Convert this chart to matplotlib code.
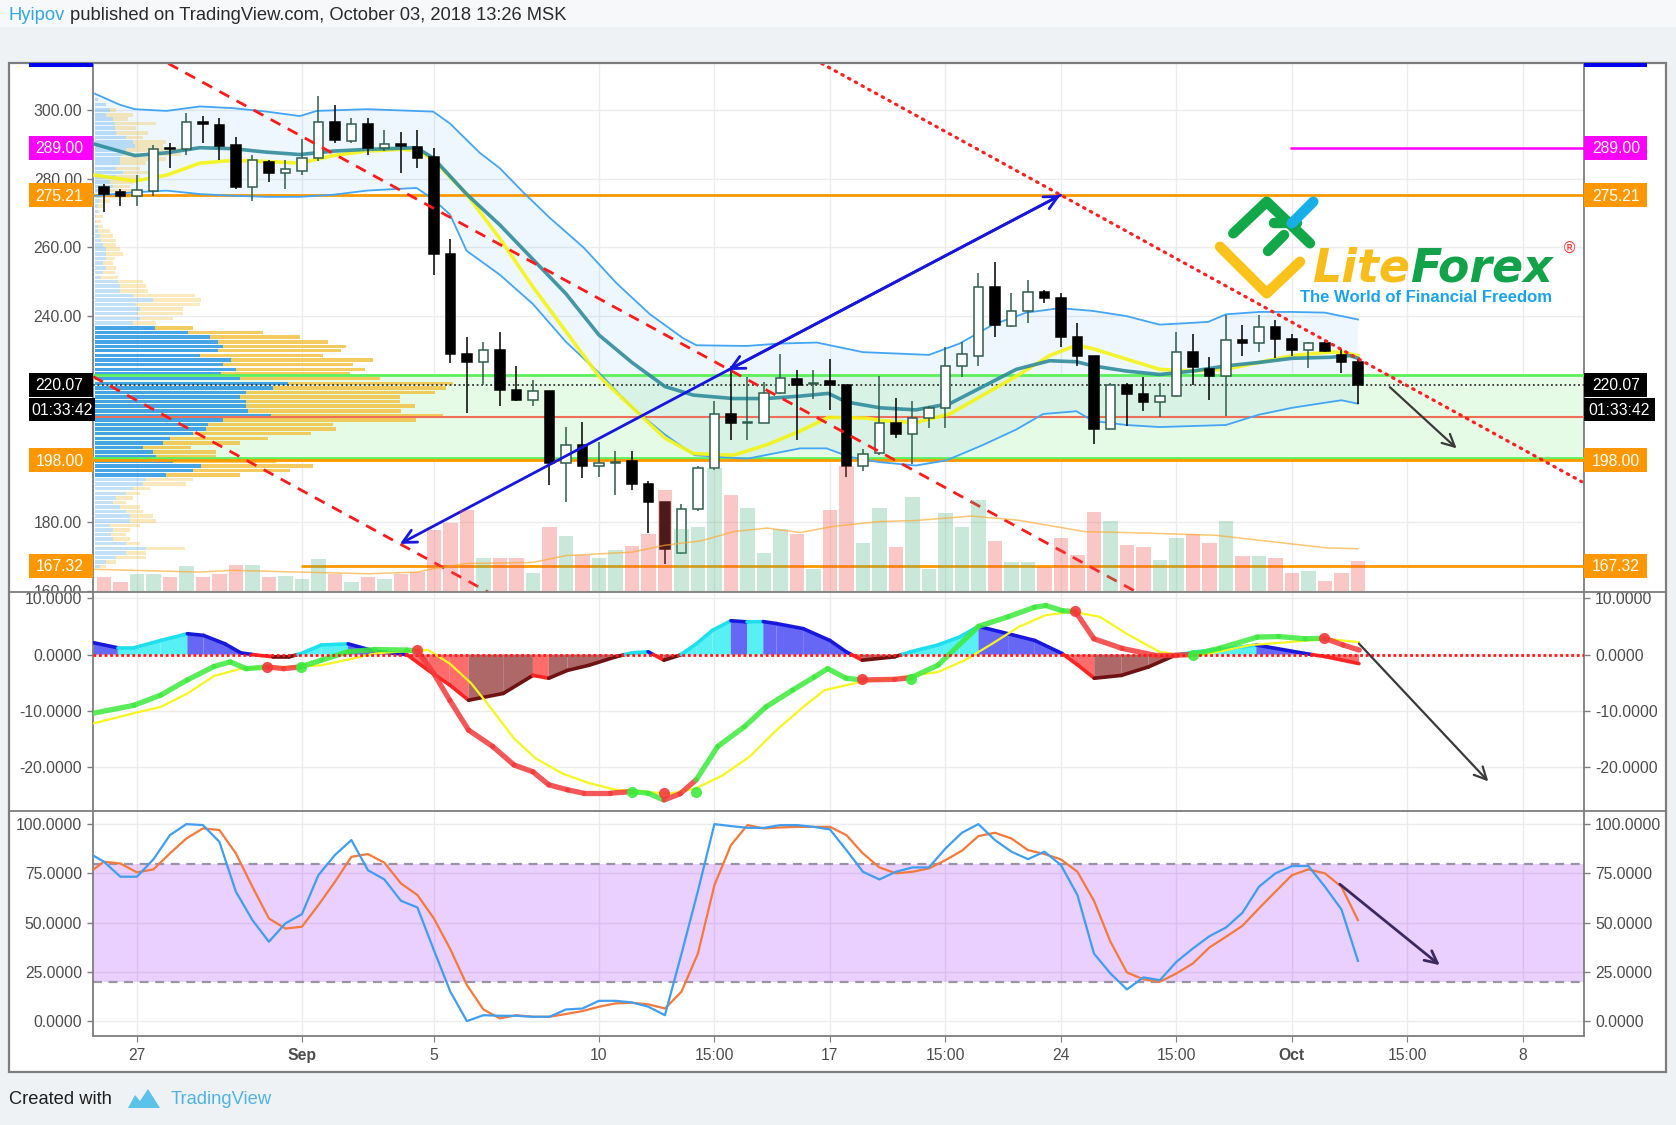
import numpy as np
import matplotlib
matplotlib.use("Agg")
import matplotlib.pyplot as plt
from matplotlib import font_manager as fm
from matplotlib.patches import Rectangle, Polygon
from matplotlib.collections import LineCollection
from matplotlib.transforms import blended_transform_factory, Bbox, TransformedBbox

# ------------------------------------------------------------------ fonts
try:
    fm.findfont(fm.FontProperties(family='Liberation Sans Narrow'), fallback_to_default=False)
    BASE_FONT, SZ = 'Liberation Sans Narrow', 1.0
except Exception:
    BASE_FONT, SZ = 'Liberation Sans', 0.84
plt.rcParams['font.family'] = [BASE_FONT, 'DejaVu Sans']

# ------------------------------------------------------------------ data
# 12h candles, x in days from Aug 27 (0 = Aug 27)
candle_day = np.arange(-1.0, 37.01, 0.5)
opens = [277.7, 276.0, 274.8, 276.5, 289.0, 288.7, 296.5, 295.7, 289.7, 277.5,
         284.8, 281.5, 282.3, 286.0, 296.5, 291.0, 296.0, 289.0, 290.2, 289.3,
         286.2, 258.2, 229.0, 226.6, 230.0, 218.6, 215.6, 218.3, 197.3, 202.5,
         196.3, 197.2, 197.9, 191.2, 185.8, 171.1, 183.8, 195.8, 211.5, 208.9,
         209.0, 217.5, 221.8, 220.3, 221.1, 219.9, 196.3, 200.1, 208.8, 205.8,
         210.2, 213.1, 225.5, 228.4, 248.4, 237.2, 241.4, 246.9, 245.4, 233.9,
         228.4, 207.1, 219.9, 217.4, 214.9, 216.6, 229.6, 224.7, 222.6, 232.9,
         232.2, 236.9, 233.4, 230.1, 232.2, 228.6, 226.6]
highs = [278.5, 277.0, 281.0, 289.7, 290.5, 299.0, 298.3, 297.5, 292.0, 287.0,
         285.5, 285.5, 291.5, 304.0, 301.5, 297.7, 297.5, 294.0, 293.5, 294.0,
         289.0, 262.4, 234.0, 232.5, 235.3, 225.4, 221.3, 218.3, 207.8, 209.3,
         203.3, 200.8, 200.8, 192.0, 185.8, 185.3, 196.3, 215.3, 225.4, 222.3,
         220.8, 228.9, 224.4, 224.4, 227.4, 219.9, 201.3, 222.5, 216.3, 215.2,
         213.8, 230.9, 232.4, 252.6, 255.6, 246.6, 250.6, 247.6, 246.6, 237.9,
         228.4, 220.4, 220.4, 222.4, 220.5, 235.4, 234.9, 228.2, 240.4, 237.4,
         240.4, 238.9, 234.9, 232.5, 232.9, 230.4, 227.4]
lows = [270.4, 272.0, 272.0, 275.0, 283.0, 287.0, 290.5, 285.5, 277.0, 273.5,
        279.0, 277.0, 281.0, 285.0, 290.5, 290.3, 287.0, 288.0, 281.7, 283.0,
        252.0, 226.4, 211.8, 220.0, 213.8, 215.3, 213.8, 190.8, 185.8, 193.0,
        193.3, 187.8, 189.4, 176.8, 167.8, 170.8, 183.3, 195.3, 203.8, 203.8,
        208.8, 217.4, 203.8, 215.8, 212.8, 193.3, 194.8, 199.7, 204.5, 196.9,
        207.5, 207.5, 222.4, 225.4, 233.9, 236.9, 237.9, 243.9, 230.9, 225.4,
        202.8, 207.1, 208.1, 212.4, 210.5, 216.4, 219.9, 215.5, 210.9, 228.4,
        229.4, 227.9, 228.4, 224.9, 229.4, 223.4, 214.4]
closes = [275.6, 274.8, 276.7, 288.7, 288.7, 296.5, 295.8, 289.5, 277.5, 285.5,
          281.5, 282.7, 286.0, 296.5, 291.3, 296.0, 289.0, 290.2, 289.5, 286.0,
          258.2, 229.0, 226.6, 230.0, 218.6, 215.6, 218.1, 197.3, 202.5, 196.3,
          197.3, 197.5, 191.2, 185.8, 172.3, 183.8, 195.8, 211.5, 208.8, 209.2,
          217.5, 222.1, 219.9, 220.6, 219.9, 196.3, 199.8, 209.0, 205.8, 210.2,
          213.1, 225.6, 228.9, 248.4, 237.4, 241.6, 246.9, 245.4, 233.9, 228.4,
          207.1, 219.9, 217.4, 214.9, 216.6, 229.6, 225.1, 222.6, 232.9, 232.2,
          236.9, 233.4, 230.1, 232.1, 229.9, 226.6, 220.07]
volumes = [42, 26, 50, 50, 42, 73, 42, 50, 75, 75,
           42, 45, 36, 92, 50, 26, 42, 34, 50, 56,
           177, 197, 235, 95, 95, 95, 53, 185, 160, 105,
           95, 120, 130, 167, 295, 180, 185, 358, 280, 240,
           110, 180, 167, 65, 235, 363, 140, 240, 127, 273,
           63, 227, 185, 265, 145, 83, 83, 70, 153, 105,
           230, 205, 135, 127, 90, 155, 167, 140, 203, 103,
           103, 97, 53, 57, 30, 53, 87]
vol_ma_day = [-1.27, 1.9, 2.9, 4.9, 7.0, 8.5, 9.0, 10.0, 12.0, 13.0, 15.0, 16.0, 17.1,
              18.1, 19.1, 20.1, 21.1, 22.5, 23.6, 25.3, 26.7, 28.7, 30.7, 32.7, 34.7, 36.1, 37.0]
vol_ma = [63, 55, 60, 55, 50, 55, 65, 80, 83, 103, 113, 133, 146,
          173, 183, 170, 188, 202, 205, 218, 206, 173, 168, 162, 140, 125, 123]

bb_up_day = [-1.27, -0.52, -0.06, 0.90, 1.91, 2.92, 3.93, 4.94, 5.45, 6.96, 8.98, 9.49, 10.39,
             11.0, 11.71, 12.52, 13.53, 14.54, 15.55, 16.56, 16.96, 18.47, 19.49, 20.6, 22.0,
             24.0, 24.93, 25.94, 26.95, 27.96, 28.97, 29.98, 30.99, 32.46, 33.0, 34.0, 35.0, 36.0, 37.0]
bb_up = [304.7, 301.5, 300.2, 299.7, 301.0, 300.5, 299.5, 298.2, 299.7, 300.2, 299.5, 296.0, 287.5,
         283.0, 276.0, 268.5, 260.0, 249.5, 240.5, 233.5, 231.5, 231.3, 232.0, 232.3, 229.5,
         228.7, 232.0, 237.5, 241.0, 242.3, 241.5, 240.0, 237.5, 238.3, 240.5, 241.2, 241.2, 241.0, 239.0]
bb_lo_day = [-1.27, -0.11, 0.90, 1.91, 2.92, 3.93, 4.94, 5.95, 6.96, 8.47, 8.98, 9.49, 9.99, 11.0,
             12.0, 13.0, 14.0, 15.0, 16.0, 16.9, 18.5, 20.1, 20.9, 21.6, 22.5, 23.6, 24.53, 25.64,
             26.65, 27.46, 28.47, 28.97, 29.98, 30.99, 33.0, 34.0, 35.0, 36.15, 36.5, 37.0]
bb_lo = [275.0, 276.0, 276.5, 275.5, 275.0, 274.7, 274.7, 275.3, 276.5, 277.3, 274.0, 269.5, 259.0, 252.0,
         243.5, 232.5, 223.5, 213.5, 205.5, 199.5, 198.5, 201.5, 201.5, 199.0, 197.5, 196.5, 198.0, 202.5,
         207.0, 211.5, 212.3, 209.5, 208.3, 207.7, 208.3, 211.3, 213.3, 215.0, 215.5, 214.5]
bb_mid_day = [-1.27, -0.06, 0.90, 1.91, 2.92, 3.93, 4.94, 5.95, 6.96, 8.47, 8.98, 9.99, 11.0, 12.0,
              13.0, 14.0, 15.0, 16.0, 16.86, 18.07, 19.08, 20.09, 20.95, 21.5, 22.52, 23.6, 24.63,
              25.64, 26.65, 27.66, 28.47, 28.97, 29.98, 30.99, 32.0, 33.0, 34.0, 35.0, 36.15, 36.75, 37.0]
bb_mid = [290.0, 286.7, 287.5, 289.0, 288.7, 287.7, 287.0, 288.0, 288.5, 289.0, 286.0, 275.5, 266.5, 256.5,
          246.5, 234.5, 226.5, 219.5, 217.0, 216.0, 216.0, 216.7, 217.5, 215.0, 213.3, 212.7, 214.5,
          219.5, 224.5, 227.0, 226.7, 225.5, 224.0, 223.0, 224.0, 225.5, 226.5, 227.7, 228.0, 228.5, 227.7]
ema_day = [-1.27, -0.06, 0.90, 1.91, 2.92, 3.93, 4.94, 5.95, 6.96, 7.97, 8.47, 8.98, 9.99, 11.0, 12.0,
           13.0, 14.0, 15.0, 16.0, 16.86, 18.07, 19.08, 20.09, 20.95, 22.1, 22.6, 23.6, 24.63, 25.64,
           26.65, 27.66, 28.47, 28.97, 29.98, 30.99, 32.0, 33.0, 34.0, 35.0, 36.15, 36.5, 37.0]
ema = [281.0, 279.3, 281.0, 284.5, 285.3, 285.0, 284.5, 286.7, 288.0, 288.5, 288.3, 285.5, 275.5, 262.5, 248.5,
       235.5, 222.5, 213.5, 204.5, 200.0, 199.5, 202.5, 206.5, 210.5, 210.3, 209.5, 209.0, 211.5, 217.0,
       222.5, 228.5, 231.5, 230.5, 227.5, 224.5, 224.0, 224.5, 226.5, 228.5, 229.5, 229.5, 228.5]

# visible-range volume profile (price row, up volume, down volume)
profile_price = [303.0, 301.5, 300.0, 298.5, 297.3, 296.0, 294.7, 293.3, 292.0, 290.7, 289.5, 288.3, 287.0,
                 285.7, 284.5, 283.0, 281.7, 280.5, 279.0, 277.7, 276.5, 275.0, 273.5, 272.0, 270.5, 269.0,
                 267.5, 266.0, 264.7, 263.3, 262.0, 260.7, 259.5, 258.0, 256.7, 255.5, 254.0, 252.7, 251.3,
                 250.0, 248.7, 247.3, 246.0, 244.7, 243.3, 242.0, 240.7, 239.3, 238.0, 236.5, 235.2, 233.9,
                 232.5, 231.2, 229.9, 228.5, 227.2, 225.9, 224.5, 223.2, 221.8, 220.4, 219.1, 217.8, 216.4,
                 215.1, 213.8, 212.4, 211.1, 209.8, 208.4, 207.1, 205.8, 204.4, 203.1, 201.8, 200.4, 199.1,
                 197.8, 196.4, 195.1, 193.8, 192.4, 191.1, 189.8, 188.4, 187.1, 185.8, 184.4, 183.1, 181.8,
                 180.4, 179.1, 177.8, 176.4, 175.1, 173.8, 172.4, 171.1, 169.8, 168.4, 167.1]
profile_up = [10, 35, 45, 35, 55, 60, 60, 65, 95, 115, 120, 95, 85,
              75, 75, 65, 85, 65, 45, 55, 45, 35, 15, 10, 10, 5,
              5, 10, 10, 15, 20, 25, 35, 35, 35, 25, 35, 25, 20,
              70, 75, 75, 115, 175, 125, 135, 130, 135, 115, 180, 280, 345,
              370, 385, 370, 315, 410, 385, 425, 380, 435, 580, 535, 455, 435,
              455, 455, 460, 530, 385, 340, 335, 295, 225, 205, 145, 175, 185,
              235, 320, 295, 215, 155, 145, 115, 95, 65, 55, 75, 95, 105,
              105, 45, 55, 50, 55, 95, 155, 95, 65, 35, 15]
profile_down = [0, 0, 20, 80, 45, 125, 65, 95, 50, 100, 85, 180, 175,
                140, 80, 70, 80, 70, 70, 50, 65, 70, 30, 15, 5, 20,
                15, 15, 35, 40, 45, 40, 40, 50, 25, 30, 30, 35, 50,
                75, 80, 85, 185, 145, 190, 130, 135, 100, 70, 115, 225, 270,
                330, 370, 370, 370, 425, 390, 385, 385, 420, 495, 520, 565, 480,
                460, 505, 460, 515, 580, 375, 390, 355, 295, 230, 145, 190, 180,
                310, 335, 290, 220, 140, 130, 50, 40, 50, 40, 60, 50, 70,
                80, 90, 50, 45, 50, 40, 115, 60, 90, 30, 20]
value_area = (193.8, 236.5)

# horizontal levels and their axis labels
level_price = [289.00, 275.21, 220.07, 198.00, 167.32]
level_color = ['#ff00ff', '#ff9800', '#000000', '#ff9800', '#ff9800']
timer_text = '01:33:42'
zone_low, zone_high, zone_mid = 198.8, 222.8, 210.7
magenta_start, orange_low_start = 34.95, 4.98

# drawings (day, price)
trend_dash_a = ([0.95, 30.29], [313.5, 159.7])
trend_dash_b = ([-1.33, 10.64], [222.4, 159.7])
trend_dot = ([20.75, 43.78], [313.5, 191.8])
blue_arrow_pts = ([7.97, 17.92, 27.99], [173.7, 224.3, 275.2])
main_arrow = ([37.97, 39.99], [219.3, 201.5])
macd_arrow = ([37.03, 40.95], [1.95, -22.5])
stoch_arrow = ([36.45, 39.48], [69.5, 28.4])

# MACD pane
macd_day = [-1.31, -0.09, 0.72, 1.53, 2.34, 2.83, 3.31, 3.96, 4.45, 4.94, 5.59, 6.40, 7.21, 8.18, 8.51, 9.0,
            9.48, 10.05, 10.78, 11.43, 12.0, 12.48, 13.05, 13.54, 14.35, 15.0, 15.49, 15.97, 16.46, 16.95,
            17.60, 18.41, 19.06, 19.87, 20.52, 20.93, 21.49, 21.98, 22.96, 23.45, 24.27, 25.5, 26.4, 27.2,
            27.54, 28.03, 28.44, 29.0, 29.85, 30.83, 31.48, 31.98, 32.8, 33.95, 34.6, 35.4, 35.98, 36.55, 37.04]
macd_val = [-10.4, -9.0, -7.2, -4.5, -2.1, -1.3, -2.5, -2.2, -2.5, -2.2, -1.0, 0.5, 0.9, 0.8, 0.6, -3.4,
            -8.1, -13.4, -16.3, -19.6, -20.8, -23.1, -24.0, -24.6, -24.6, -24.3, -24.6, -25.8, -24.7, -22.2,
            -16.3, -12.8, -9.3, -6.3, -4.0, -2.5, -4.2, -4.5, -4.4, -4.1, -1.9, 5.0, 6.7, 8.4,
            8.7, 7.8, 7.6, 2.8, 1.1, -0.1, -0.1, 0.0, 1.1, 3.1, 3.2, 2.8, 2.9, 1.7, 0.8]
sig_day = [-1.31, -0.09, 0.72, 1.53, 2.34, 3.15, 3.96, 4.94, 5.59, 6.40, 7.21, 8.18, 8.83, 9.48, 10.13,
           10.78, 11.43, 12.08, 12.89, 13.70, 14.51, 15.33, 16.14, 16.95, 17.76, 18.57, 19.38, 20.19, 20.84,
           21.98, 22.96, 24.27, 25.09, 25.91, 26.72, 27.54, 28.36, 29.18, 29.99, 30.98, 31.96, 32.77, 33.76,
           34.9, 36.04, 37.03]
sig_val = [-12.2, -10.4, -9.3, -6.9, -3.8, -2.5, -2.3, -2.1, -1.9, -0.9, 0.2, 0.6, 0.8, -1.6, -5.1,
           -9.9, -14.9, -18.4, -21.1, -22.8, -24.0, -24.3, -24.7, -23.7, -21.4, -18.1, -13.4, -9.3, -6.3,
           -4.8, -4.2, -3.1, -1.0, 1.9, 4.9, 7.0, 7.6, 6.7, 3.7, 0.5, -0.4, 0.5, 1.7,
           2.2, 2.8, 2.2]
hist_day = [-1.31, -0.58, -0.09, 0.72, 1.53, 2.02, 2.67, 3.15, 3.64, 4.13, 4.61, 4.94, 5.59, 6.40, 7.21,
            8.18, 8.83, 9.48, 10.05, 11.10, 12.0, 12.48, 13.05, 13.70, 14.51, 15.0, 15.49, 15.97, 16.46,
            16.95, 17.44, 18.0, 18.49, 18.98, 19.38, 20.19, 21.0, 21.49, 21.98, 22.96, 23.45, 24.27, 24.92,
            25.5, 26.4, 27.21, 28.03, 28.52, 29.01, 29.83, 30.65, 31.47, 32.12, 33.1, 33.92, 35.39, 36.04, 37.03]
hist_val = [2.1, 1.2, 1.2, 2.5, 3.7, 3.4, 1.9, 0.3, -0.1, -0.4, -0.4, 0.1, 1.7, 1.9, 0.6,
            0.0, -2.8, -5.4, -8.1, -6.9, -3.7, -4.2, -2.8, -1.9, -0.4, 0.3, 0.5, -1.0, -0.1,
            1.9, 4.3, 6.0, 5.8, 5.85, 5.5, 4.6, 2.5, 0.5, -1.0, -0.4, 0.5, 1.7, 3.1,
            5.0, 3.7, 2.5, 0.2, -1.9, -4.2, -3.7, -2.2, -0.1, 0.5, 1.1, 1.7, 0.2, -0.4, -1.6]
cross_day = [3.93, 4.97, 8.48, 15.0, 15.98, 16.95, 21.98, 23.45, 28.44, 31.99, 35.96]
cross_val = [-2.2, -2.2, 0.8, -24.4, -24.6, -24.3, -4.4, -4.4, 7.7, 0.0, 2.9]
cross_dir = ['r', 'g', 'r', 'g', 'r', 'g', 'r', 'g', 'r', 'g', 'r']

# Stochastic pane
stoch_day = [-1.31] + list(candle_day)
stoch_k = [83.9, 80.9, 73.3, 73.3, 82.1, 94.4, 100, 99.5, 91.0, 65.7, 51.3,
           40.3, 49.6, 54.3, 74.1, 84.3, 91.9, 76.6, 71.9, 61.1, 57.7,
           36.0, 14.9, 0.0, 3.0, 2.7, 2.7, 2.2, 2.2, 5.9, 6.4,
           10.3, 10.3, 9.5, 7.3, 3.0, 34, 66, 100, 99.0, 98.1,
           98.1, 99.5, 99.5, 98.6, 97.3, 86.8, 75.8, 71.9, 75.8, 78.0,
           78.0, 87.6, 95.6, 100, 91.9, 86.0, 82.2, 86.0, 79.2, 64.0,
           34.3, 24.2, 16.1, 22.2, 20.8, 30.1, 36.9, 43.1, 47.5, 55.0,
           68.2, 75.0, 78.7, 78.7, 68.2, 56.7, 30.6]
stoch_d = [77.0, 80.9, 80.0, 75.5, 77.0, 85.1, 92.7, 97.8, 97.0, 85.1, 68.2,
           52.1, 47.0, 47.9, 58.9, 70.7, 83.4, 84.8, 80.4, 69.9, 64.0,
           52.1, 36.4, 18.3, 5.9, 1.4, 3.0, 2.2, 2.2, 3.6, 5.1,
           7.3, 9.0, 9.3, 8.5, 6.4, 14.9, 34.3, 69.0, 89.3, 99.5,
           97.8, 98.3, 98.6, 98.6, 98.6, 94.4, 85.1, 78.0, 75.0, 75.8,
           77.5, 81.7, 86.5, 93.9, 95.6, 92.7, 86.8, 84.8, 82.1, 75.8,
           61.1, 40.3, 24.7, 21.2, 20.0, 24.2, 29.3, 37.4, 42.8, 48.4,
           57.2, 65.7, 74.1, 77.0, 75.0, 68.2, 51.3]
stoch_band = (20, 80)

# axes
xtick_day = [0, 5, 9, 14, 17.5, 21, 24.5, 28, 31.5, 35, 38.5, 42]
xtick_lab = ['27', 'Sep', '5', '10', '15:00', '17', '15:00', '24', '15:00', 'Oct', '15:00', '8']
main_ticks = [160, 180, 200, 220, 240, 260, 280, 300]
main_hidden_ticks = [200, 220]          # covered by the 198.00 / 220.07 labels in the original
macd_ticks = [10, 0, -10, -20]
stoch_ticks = [100, 75, 50, 25, 0]

# ------------------------------------------------------------------ layout
W, H = 1676, 1125
XMIN, XMAX = -1.33, 43.85
MAIN_LIM, MACD_LIM, STOCH_LIM = (159.7, 313.7), (-27.7, 11.1), (-7.4, 106.8)
L, R = 93, 1584
T_MAIN, B_MAIN, B_MACD, B_STOCH = 62.8, 592.0, 810.7, 1035.7
FRAME = (9, 62.8, 1665.5, 1071.7)
FS = 13.5 * SZ
GRID = '#ececec'
AXC = '#7d7d7d'
LABC = '#4d4d4d'

fig = plt.figure(figsize=(W / 100, H / 100), dpi=100)
fig.patch.set_facecolor('#eff2f5')

bg = fig.add_axes([0, 0, 1, 1], zorder=-1)
bg.set_xlim(0, W); bg.set_ylim(H, 0); bg.axis('off')
bg.add_patch(Rectangle((0, 0), W, 27, facecolor='#f7f8fa', lw=0))
bg.add_patch(Rectangle((FRAME[0], FRAME[1]), FRAME[2] - FRAME[0], FRAME[3] - FRAME[1],
                       facecolor='white', lw=0))


def pane(top, bot):
    return fig.add_axes([L / W, 1 - bot / H, (R - L) / W, (bot - top) / H], zorder=1)


ax_m = pane(T_MAIN, B_MAIN)
ax_c = pane(B_MAIN, B_MACD)
ax_s = pane(B_MACD, B_STOCH)

for a, lim in ((ax_m, MAIN_LIM), (ax_c, MACD_LIM), (ax_s, STOCH_LIM)):
    a.set_xlim(XMIN, XMAX)
    a.set_ylim(*lim)
    a.set_facecolor('white')
    a.spines['top'].set_visible(False)
    a.spines['bottom'].set_visible(False)
    for s in ('left', 'right'):
        a.spines[s].set_color(AXC)
        a.spines[s].set_linewidth(1.3)
    a.set_xticks(xtick_day)
    a.tick_params(axis='x', bottom=False, labelbottom=False)
    a.tick_params(axis='y', left=True, right=True, labelleft=True, labelright=True, length=4,
                  width=1, color=AXC, labelsize=FS, labelcolor=LABC, pad=4)
    a.grid(True, color=GRID, lw=1)
    a.set_axisbelow(True)

ax_m.set_yticks(main_ticks, ['' if v in main_hidden_ticks else f'{v:.2f}' for v in main_ticks])
ax_c.set_yticks(macd_ticks, [f'{v:.4f}' for v in macd_ticks])
ax_s.set_yticks(stoch_ticks, [f'{v:.4f}' for v in stoch_ticks])
ax_s.spines['bottom'].set_visible(True)
ax_s.spines['bottom'].set_color(AXC)
ax_s.spines['bottom'].set_linewidth(1.3)
ax_s.tick_params(axis='x', bottom=True, labelbottom=True, length=4, color=AXC, labelsize=FS,
                 labelcolor=LABC, pad=5)
ax_s.set_xticklabels(xtick_lab)
for lab in ax_s.get_xticklabels():
    if lab.get_text() in ('Sep', 'Oct'):
        lab.set_fontweight('bold')


def clip_ylabels(ax, top, bot):
    box = TransformedBbox(Bbox([[0, 1 - bot / H], [1, 1 - top / H]]), fig.transFigure)
    for t in ax.yaxis.get_major_ticks():
        for lab in (t.label1, t.label2):
            lab.set_clip_box(box)
            lab.set_clip_on(True)


clip_ylabels(ax_m, T_MAIN, B_MAIN)
clip_ylabels(ax_c, B_MAIN, B_MACD)
clip_ylabels(ax_s, B_MACD, B_STOCH)

# ------------------------------------------------------------------ main pane
ax_m.axhspan(zone_low, zone_high, color='#e6fbe6', lw=0, zorder=1)
bb_poly = list(zip(bb_up_day, bb_up)) + list(zip(bb_lo_day[::-1], bb_lo[::-1]))
ax_m.add_patch(Polygon(bb_poly, closed=True, facecolor=(0.13, 0.59, 0.95, 0.07), lw=0, zorder=1.5))

# volume profile, widths in axes fraction
ptrans = blended_transform_factory(ax_m.transAxes, ax_m.transData)
PROF_SCALE = 1.0 / (3 * (R - L))
x_start = 1.7 / (R - L)
for p, up_v, dn_v in zip(profile_price, profile_up, profile_down):
    in_va = value_area[0] <= p <= value_area[1]
    a_b, a_y = (0.85, 0.8) if in_va else (0.28, 0.33)
    wb, wy = up_v * PROF_SCALE, dn_v * PROF_SCALE
    ax_m.add_patch(Rectangle((x_start, p - 0.5), wb, 1.0, transform=ptrans,
                             facecolor=(0.15, 0.58, 0.89, a_b), lw=0, zorder=2))
    ax_m.add_patch(Rectangle((x_start + wb, p - 0.5), wy, 1.0, transform=ptrans,
                             facecolor=(0.95, 0.75, 0.22, a_y), lw=0, zorder=2))

# levels
ax_m.axhline(zone_high, color='#5cf05c', lw=2, zorder=3)
ax_m.axhline(zone_low, color='#5cf05c', lw=2, zorder=3)
ax_m.axhline(zone_mid, color='#ee6e58', lw=1.5, zorder=3)
ax_m.axhline(level_price[1], color='#ff9800', lw=2, zorder=3)
ax_m.axhline(level_price[3], color='#ff9800', lw=2, zorder=3)
ax_m.hlines(level_price[4], orange_low_start, XMAX, color='#ff9800', lw=2, zorder=3)
ax_m.hlines(level_price[0], magenta_start, XMAX, color='#ff00ff', lw=1.8, zorder=3)
ax_m.axhline(level_price[2], color='#333333', lw=1.3, ls=(0, (1, 1.5)), zorder=3)

# Bollinger + EMA
ax_m.plot(bb_up_day, bb_up, color='#42a5f5', lw=1.3, zorder=4)
ax_m.plot(bb_lo_day, bb_lo, color='#42a5f5', lw=1.3, zorder=4)
ax_m.plot(bb_mid_day, bb_mid, color='#2f8c9c', lw=2.6, alpha=0.9, zorder=4.2)
ax_m.plot(ema_day, ema, color='#f4f414', lw=2.6, alpha=0.9, zorder=4.1)

# candles
BW = 0.28
for d, o, h, l, c in zip(candle_day, opens, highs, lows, closes):
    up = c >= o
    ec = '#2f5d4c' if up else '#000000'
    ax_m.plot([d, d], [l, h], color=ec, lw=1.1, zorder=5, solid_capstyle='butt')
    ax_m.add_patch(Rectangle((d - BW / 2, min(o, c)), BW, max(abs(c - o), 0.35),
                             facecolor='white' if up else '#000000', edgecolor=ec, lw=1.1, zorder=6))

# trend lines
ax_m.plot(*trend_dash_a, color='#ff1a1a', lw=2, ls=(0, (4, 3)), zorder=7)
ax_m.plot(*trend_dash_b, color='#ff1a1a', lw=2, ls=(0, (4, 3)), zorder=7)
ax_m.plot(*trend_dot, color='#ff2020', lw=2.3, ls=(0, (0.5, 1.9)), dash_capstyle='round', zorder=7)

bx, by = blue_arrow_pts
aprops = dict(arrowstyle='->', color='#1616e0', lw=2, mutation_scale=24, shrinkA=0, shrinkB=0)
ax_m.annotate('', xy=(bx[0], by[0]), xytext=(bx[1], by[1]), arrowprops=aprops, zorder=8)
ax_m.annotate('', xy=(bx[2], by[2]), xytext=(bx[1], by[1]), arrowprops=aprops, zorder=8)
ax_m.annotate('', xy=(bx[1], by[1]), xytext=(bx[2], by[2]), arrowprops=aprops, zorder=8)
ax_m.annotate('', xy=(main_arrow[0][1], main_arrow[1][1]), xytext=(main_arrow[0][0], main_arrow[1][0]),
              arrowprops=dict(arrowstyle='->', color='#3a3a3a', lw=1.6, mutation_scale=22,
                              shrinkA=0, shrinkB=0), zorder=8)

# volume bars on their own scale
ax_v = ax_m.twinx()
ax_v.set_zorder(1)
ax_v.set_ylim((MAIN_LIM[0] - 160) * 10, (MAIN_LIM[1] - 160) * 10)
ax_v.axis('off')
vcols = [(0.30, 0.70, 0.52, 0.30) if c >= o else (0.937, 0.325, 0.314, 0.32)
         for o, c in zip(opens, closes)]
ax_v.bar(candle_day, volumes, width=0.44, color=vcols, lw=0)
ax_v.plot(vol_ma_day, vol_ma, color='#ffa726', lw=1.1, alpha=0.65)
ax_v.set_xlim(XMIN, XMAX)

# ------------------------------------------------------------------ MACD pane
HCOL = {('pos', True): ('#45f0f4', '#1fdfee'), ('pos', False): ('#5656f6', '#1818dd'),
        ('neg', False): ('#ff5c5c', '#ff2424'), ('neg', True): ('#a65858', '#6e1212')}
for i in range(len(hist_day) - 1):
    x0, x1, v0, v1 = hist_day[i], hist_day[i + 1], hist_val[i], hist_val[i + 1]
    rising = v1 >= v0
    if v0 * v1 < 0:
        xz = x0 + (x1 - x0) * v0 / (v0 - v1)
        parts = [(x0, v0, xz, 0.0), (xz, 0.0, x1, v1)]
    else:
        parts = [(x0, v0, x1, v1)]
    for a0, b0, a1, b1 in parts:
        sign = 'pos' if (b0 + b1) > 0 else 'neg'
        fc, ec = HCOL[(sign, rising)]
        ax_c.add_patch(Polygon([(a0, 0), (a0, b0), (a1, b1), (a1, 0)], closed=True,
                               facecolor=fc, edgecolor='none', alpha=0.9, zorder=2))
        ax_c.plot([a0, a1], [b0, b1], color=ec, lw=2.6, solid_capstyle='round', zorder=3)

ax_c.plot(sig_day, sig_val, color='#f6f61e', lw=1.6, zorder=4)


def macd_state(x):
    st = 'g'
    for d, c in zip(cross_day, cross_dir):
        if d <= x:
            st = c
    return st


SCOL = {'r': '#f23a3a', 'g': '#3dea3d'}
segs = [[(macd_day[i], macd_val[i]), (macd_day[i + 1], macd_val[i + 1])] for i in range(len(macd_day) - 1)]
scols = [SCOL[macd_state(0.5 * (macd_day[i] + macd_day[i + 1]))] for i in range(len(macd_day) - 1)]
ax_c.add_collection(LineCollection(segs, colors=scols, linewidths=3.8, alpha=0.85,
                                   capstyle='round', joinstyle='round', zorder=5))
ax_c.axhline(0, color='#ff1a1a', lw=2, ls=(0, (1, 1)), zorder=6)
for d, v, c in zip(cross_day, cross_val, cross_dir):
    ax_c.plot(d, v, 'o', ms=8, color=SCOL[c], alpha=0.9, mec='none', zorder=7)
ax_c.annotate('', xy=(macd_arrow[0][1], macd_arrow[1][1]), xytext=(macd_arrow[0][0], macd_arrow[1][0]),
              arrowprops=dict(arrowstyle='->', color='#3a3a3a', lw=1.6, mutation_scale=22,
                              shrinkA=0, shrinkB=0), zorder=8)

# ------------------------------------------------------------------ Stochastic pane
ax_s.axhspan(*stoch_band, color=(0.6, 0.08, 1.0, 0.2), lw=0, zorder=1)
for lv in stoch_band:
    ax_s.axhline(lv, color='#9a92a6', lw=1.6, ls=(0, (4, 3)), zorder=2)
ax_s.plot(stoch_day, stoch_d, color='#f5793a', lw=1.6, zorder=3)
ax_s.plot(stoch_day, stoch_k, color='#3f9ef0', lw=1.6, zorder=4)
ax_s.annotate('', xy=(stoch_arrow[0][1], stoch_arrow[1][1]), xytext=(stoch_arrow[0][0], stoch_arrow[1][0]),
              arrowprops=dict(arrowstyle='->', color='#3b2960', lw=2, mutation_scale=22,
                              shrinkA=0, shrinkB=0), zorder=8)

# ------------------------------------------------------------------ overlay (labels, frame, logo)
ov = fig.add_axes([0, 0, 1, 1], zorder=5)
ov.set_xlim(0, W); ov.set_ylim(H, 0); ov.axis('off')
ov.add_patch(Rectangle((FRAME[0], FRAME[1]), FRAME[2] - FRAME[0], FRAME[3] - FRAME[1],
                       fill=False, edgecolor=AXC, lw=1.6))
for yy in (B_MAIN, B_MACD):
    ov.plot([FRAME[0], FRAME[2]], [yy, yy], color=AXC, lw=1.3)
ov.add_patch(Rectangle((29, T_MAIN), 64, 4.5, color='#0000f0', lw=0))
ov.add_patch(Rectangle((R, T_MAIN), 63, 4.5, color='#0000f0', lw=0))


def py(ax, v):
    return H - ax.transData.transform((0, v))[1]


for p, c in zip(level_price, level_color):
    y = py(ax_m, p)
    ov.add_patch(Rectangle((29, y - 12), 64, 24, color=c, lw=0))
    ov.add_patch(Rectangle((R, y - 12), 63, 24, color=c, lw=0))
    ov.text(59.5, y + 1, f'{p:.2f}', color='white', fontsize=FS, ha='center', va='center')
    ov.text(1616, y + 1, f'{p:.2f}', color='white', fontsize=FS, ha='center', va='center')
yt = py(ax_m, level_price[2]) + 24.5
ov.add_patch(Rectangle((29, yt - 11.5), 66, 23, color='#000000', lw=0))
ov.add_patch(Rectangle((R, yt - 11.5), 71, 23, color='#000000', lw=0))
ov.text(62, yt + 1, timer_text, color='white', fontsize=FS, ha='center', va='center')
ov.text(1619.5, yt + 1, timer_text, color='white', fontsize=FS, ha='center', va='center')

# LiteForex logo
stroke = dict(lw=7.5, solid_capstyle='round', solid_joinstyle='round')
ov.plot([1220, 1266.7, 1300], [246.7, 293.3, 261.7], color='#fbc31a', **stroke)
ov.plot([1233.3, 1266.7, 1310], [233.3, 201.7, 243.3], color='#12a84a', **stroke)
ov.plot([1268, 1284], [251, 235], color='#12a84a', **stroke)
ov.plot([1274, 1297], [223, 223], color='#12a84a', **stroke)
ov.plot([1291.7, 1313.3], [223.3, 201.7], color='#18aee8', **stroke)
t_lite = ov.text(1312, 281, 'Lite', color='#f7bd1a', fontsize=33, fontweight='bold', fontstyle='italic',
                 family='DejaVu Sans', ha='left', va='baseline')
ov.annotate('Forex', xy=(1, 0), xycoords=t_lite, color='#12a34a', fontsize=33, fontweight='bold',
            fontstyle='italic', family='DejaVu Sans', ha='left', va='bottom')
ov.text(1569, 248, '®', color='#f04040', fontsize=11, ha='center', va='center', family='DejaVu Sans')
ov.text(1300, 297, 'The World of Financial Freedom', color='#1aa3e8', fontsize=12, fontweight='bold',
        family=['Liberation Sans', 'DejaVu Sans'], ha='left', va='center')

# header / footer
HFS = 15.8 * SZ
t_user = bg.text(8.5, 16, 'Hyipov', color='#35a8e0', fontsize=HFS, ha='left', va='center')
bg.annotate('published on TradingView.com, October 03, 2018 13:26 MSK', xy=(1, 0.5), xycoords=t_user,
            xytext=(4, 0), textcoords='offset points', color='#2b2b2b', fontsize=HFS,
            ha='left', va='center')
bg.text(8.5, 1100, 'Created with', color='#1f1f1f', fontsize=HFS, ha='left', va='center')
bg.add_patch(Polygon([(128, 1108), (135, 1095), (140, 1101), (148, 1089), (160, 1108)],
                     closed=True, facecolor='#5bc2ea', lw=0))
bg.text(171, 1100, 'TradingView', color='#4fb3e3', fontsize=HFS, ha='left', va='center')

fig.savefig('out.png', dpi=100, facecolor=fig.get_facecolor())
